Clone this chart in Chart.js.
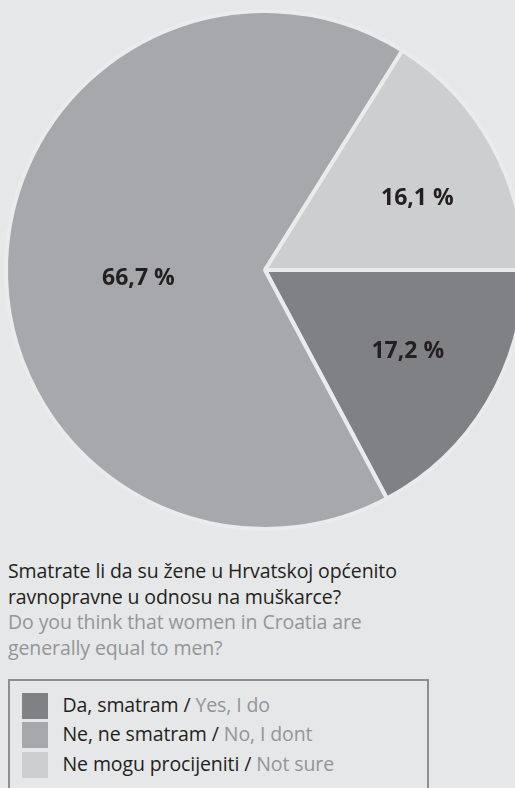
<!DOCTYPE html>
<html>
<head>
<meta charset="utf-8">
<script src="https://cdn.jsdelivr.net/npm/chart.js@4/dist/chart.umd.min.js"></script>
<style>
  html, body { margin: 0; padding: 0; }
  body {
    width: 515px; height: 788px; overflow: hidden; position: relative;
    background: #e6e7e8; font-family: "Open Sans", "Noto Sans", sans-serif;
  }
  #pieBox { position: absolute; left: 0; top: 0; width: 530px; height: 540px; }
  #question { position: absolute; left: 8px; top: 558px; font-size: 19.5px; line-height: 25.5px; letter-spacing: -0.1px; }
  #question .hr { color: #231f20; }
  #question .en { color: #939598; }
  #legend {
    position: absolute; left: 8px; top: 679px; width: 421px; height: 130px;
    border: 2.5px solid #8d8e90; box-sizing: border-box;
  }
  .item { position: absolute; left: 11.5px; height: 26px; font-size: 19.5px; line-height: 26px; color: #231f20; white-space: nowrap; letter-spacing: -0.1px; }
  .item .sw { position: absolute; left: 0; top: 0; width: 26px; height: 26px; }
  .item .tx { position: absolute; left: 41px; top: -1px; }
  .item .en { color: #939598; }
</style>
</head>
<body>
<div id="pieBox"><canvas id="pie"></canvas></div>
<div id="question"></div>
<div id="legend"></div>
<script>
// Answers and their shares (%)
const labelsHr = ['Da, smatram', 'Ne, ne smatram', 'Ne mogu procijeniti'];
const labelsEn = ['Yes, I do', 'No, I dont', 'Not sure'];
const shares = [17.2, 66.7, 16.1];
const shareText = ['17,2 %', '66,7 %', '16,1 %'];
const questionHr = ['Smatrate li da su žene u Hrvatskoj općenito', 'ravnopravne u odnosu na muškarce?'];
const questionEn = ['Do you think that women in Croatia are', 'generally equal to men?'];

const sliceColors = ['#808184', '#a7a8ab', '#cdcecf'];
const gapColor = '#eaebec';

// Where each value label sits inside its slice
const labelRadius = [0.635, 0.49, 0.65];
const labelTurn = [-1.2, -6, 3.8];

const q = document.getElementById('question');
q.innerHTML = questionHr.map(t => '<div class="hr">' + t + '</div>').join('') +
              questionEn.map(t => '<div class="en">' + t + '</div>').join('');

const lg = document.getElementById('legend');
labelsHr.forEach((t, i) => {
  const d = document.createElement('div');
  d.className = 'item';
  d.style.top = (11.5 + i * 29.5) + 'px';
  d.innerHTML = '<span class="sw" style="background:' + sliceColors[i] + '"></span>' +
                '<span class="tx">' + t + ' / <span class="en">' + labelsEn[i] + '</span></span>';
  lg.appendChild(d);
});

const valueLabels = {
  id: 'valueLabels',
  afterDatasetsDraw(chart) {
    const ctx = chart.ctx;
    const arcs = chart.getDatasetMeta(0).data;
    ctx.save();
    ctx.font = 'bold 23px "Open Sans", "Noto Sans", sans-serif';
    ctx.fillStyle = '#231f20';
    ctx.textAlign = 'center';
    ctx.textBaseline = 'middle';
    arcs.forEach((arc, i) => {
      const p = arc.getProps(['x', 'y', 'startAngle', 'endAngle', 'outerRadius'], true);
      const a = (p.startAngle + p.endAngle) / 2 + labelTurn[i] * Math.PI / 180;
      const r = p.outerRadius * labelRadius[i];
      ctx.fillText(shareText[i], p.x + Math.cos(a) * r, p.y + Math.sin(a) * r);
    });
    ctx.restore();
  }
};

new Chart(document.getElementById('pie'), {
  type: 'pie',
  data: {
    labels: labelsHr,
    datasets: [{
      data: shares,
      backgroundColor: sliceColors,
      borderColor: gapColor,
      borderWidth: 4
    }]
  },
  options: {
    responsive: true,
    maintainAspectRatio: false,
    animation: false,
    rotation: 90,
    radius: 259,
    layout: { padding: 0 },
    plugins: { legend: { display: false }, tooltip: { enabled: false } }
  },
  plugins: [valueLabels]
});
</script>
</body>
</html>
